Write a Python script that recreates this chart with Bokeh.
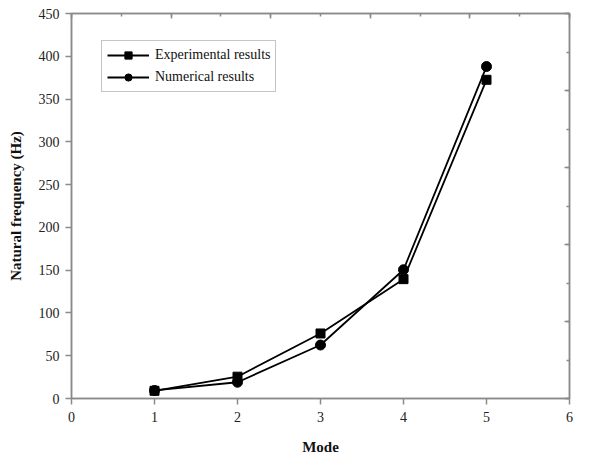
from bokeh.plotting import figure
from bokeh.models import (Range1d, LinearAxis, SingleIntervalTicker, Legend, LegendItem)
from bokeh.embed import file_html
from bokeh.resources import INLINE

# Natural frequencies per vibration mode
modes = [1, 2, 3, 4, 5]
experimental = [9, 25.5, 76, 139.5, 372.5]
numerical = [9.4, 19, 62.5, 150.5, 388]

x_ticks = [0, 1, 2, 3, 4, 5, 6]
y_ticks = [0, 50, 100, 150, 200, 250, 300, 350, 400, 450]

FONT = "Liberation Serif"
AXIS_GREY = "#8a8a8a"

p = figure(width=603, height=458, output_backend="svg", toolbar_location=None,
           x_range=Range1d(0, 6), y_range=Range1d(0, 450),
           min_border_left=71, min_border_right=34, min_border_top=13, min_border_bottom=60)
p.grid.visible = False
p.outline_line_color = AXIS_GREY
p.outline_line_width = 1.5
p.background_fill_color = "white"
p.border_fill_color = "white"

for ax, ticks in ((p.xaxis[0], x_ticks), (p.yaxis[0], y_ticks)):
    ax.ticker = ticks
    ax.axis_line_color = AXIS_GREY
    ax.axis_line_width = 1.5
    ax.major_tick_line_color = AXIS_GREY
    ax.major_tick_line_width = 1.5
    ax.major_tick_in = 0
    ax.major_tick_out = 6
    ax.minor_tick_line_color = None
    ax.major_label_text_font = FONT
    ax.major_label_text_font_size = "14px"
    ax.major_label_text_color = "#222222"
    ax.axis_label_text_font = FONT
    ax.axis_label_text_font_style = "bold"
    ax.axis_label_text_font_size = "15px"
    ax.axis_label_text_color = "#111111"

p.xaxis[0].axis_label = "Mode"
p.xaxis[0].major_label_standoff = 7
p.xaxis[0].axis_label_standoff = 14
p.yaxis[0].axis_label = "Natural frequency (Hz)"
p.yaxis[0].major_label_standoff = 6
p.yaxis[0].axis_label_standoff = 12

# Secondary frame axes with inward ticks on top and right
p.extra_x_ranges = {"sec": Range1d(0, 10)}
p.extra_y_ranges = {"sec": Range1d(0, 10)}
for ax, side in ((LinearAxis(x_range_name="sec"), "above"),
                 (LinearAxis(y_range_name="sec"), "right")):
    ax.ticker = SingleIntervalTicker(interval=2, num_minor_ticks=2)
    ax.axis_line_color = AXIS_GREY
    ax.axis_line_width = 1.5
    ax.major_tick_line_color = AXIS_GREY
    ax.major_tick_line_width = 1.5
    ax.minor_tick_line_color = AXIS_GREY
    ax.minor_tick_line_width = 1.5
    ax.major_tick_in = 5
    ax.major_tick_out = 0
    ax.minor_tick_in = 3
    ax.minor_tick_out = 0
    ax.major_label_text_font_size = "0px"
    ax.major_label_text_alpha = 0
    p.add_layout(ax, side)

l1 = p.line(modes, experimental, line_color="black", line_width=1.8)
s1 = p.scatter(modes, experimental, marker="square", size=9, fill_color="black", line_color="black")
l2 = p.line(modes, numerical, line_color="black", line_width=1.8)
s2 = p.scatter(modes, numerical, marker="circle", size=10, fill_color="black", line_color="black")

legend = Legend(items=[LegendItem(label="Experimental results", renderers=[l1, s1]),
                       LegendItem(label="Numerical results", renderers=[l2, s2])],
                location=(30, 306))
legend.label_text_font = FONT
legend.label_text_font_size = "14px"
legend.label_text_color = "#111111"
legend.border_line_color = AXIS_GREY
legend.border_line_width = 1.5
legend.glyph_width = 42
legend.glyph_height = 18
legend.spacing = 4
legend.padding = 5
legend.margin = 0
legend.label_standoff = 6
legend.background_fill_alpha = 1
p.add_layout(legend, "center")

open("out.html", "w").write(file_html(p, INLINE))
